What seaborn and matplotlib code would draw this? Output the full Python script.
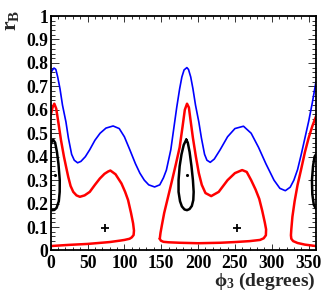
import numpy as np
import pandas as pd
import matplotlib
matplotlib.use("Agg")
import matplotlib.pyplot as plt
from matplotlib.ticker import MultipleLocator, FuncFormatter
import seaborn as sns

# Contour lines: x = phi3 (degrees), y = r_B
blue_x = [0, 2, 4.5, 7, 9.5, 12.6, 16, 20.7, 24, 28.4, 32, 36.5, 41, 47, 53, 60, 67, 75, 84.7,
          93, 100, 107.3, 115, 121, 127, 133, 141, 148, 153, 157, 163, 167, 171, 175, 178, 181,
          184.8, 187, 190, 193, 196.5, 201, 204.5, 208.8, 212, 216.5, 222, 230, 240, 250, 261.6,
          272, 282, 292, 303, 311, 318.4, 325, 330, 335, 340, 345, 350, 355, 360]
blue_y = [0.755, 0.768, 0.778, 0.772, 0.74, 0.69, 0.62, 0.548, 0.48, 0.41, 0.385, 0.374, 0.38,
          0.40, 0.43, 0.47, 0.50, 0.522, 0.531, 0.52, 0.485, 0.43, 0.37, 0.33, 0.30, 0.28, 0.271,
          0.28, 0.31, 0.343, 0.43, 0.52, 0.61, 0.69, 0.74, 0.77, 0.78, 0.772, 0.74, 0.69, 0.62,
          0.548, 0.48, 0.41, 0.385, 0.376, 0.39, 0.43, 0.485, 0.52, 0.53, 0.50, 0.44, 0.37, 0.30,
          0.265, 0.255, 0.27, 0.30, 0.345, 0.41, 0.48, 0.55, 0.63, 0.72]

red_a_x = [0, 2.5, 4.9, 7.5, 10.3, 14, 18, 21, 23.8, 27, 30.6, 35, 39.6, 46, 53, 60, 66.7, 73,
           78, 81, 88, 96, 101, 105, 109, 111.8, 113, 112.5, 110, 107, 100, 93.8, 80, 50, 25, 0]
red_a_y = [0.577, 0.61, 0.626, 0.605, 0.548, 0.47, 0.40, 0.355, 0.314, 0.275, 0.25, 0.235, 0.229,
           0.235, 0.25, 0.28, 0.307, 0.327, 0.337, 0.341, 0.325, 0.286, 0.25, 0.215, 0.16, 0.116,
           0.085, 0.066, 0.056, 0.05, 0.045, 0.042, 0.036, 0.028, 0.024, 0.019]

red_b_x = [148, 149, 151, 154, 159, 164, 170, 175, 179, 182, 185, 187.5, 190, 193, 197, 201, 205,
           210, 217.8, 228, 240, 250, 259.8, 266, 272, 278, 283, 287, 290.5, 292.3, 292, 289,
           284, 270, 250, 230, 200, 175, 160, 153, 149.5, 148]
red_b_y = [0.05, 0.075, 0.11, 0.16, 0.225, 0.29, 0.37, 0.44, 0.53, 0.60, 0.626, 0.61, 0.55, 0.48,
           0.40, 0.33, 0.28, 0.245, 0.232, 0.25, 0.30, 0.33, 0.343, 0.335, 0.30, 0.26, 0.22, 0.17,
           0.12, 0.09, 0.065, 0.052, 0.045, 0.04, 0.036, 0.033, 0.031, 0.033, 0.035, 0.037, 0.042,
           0.05]

red_c_x = [360, 345, 335, 329, 326.5, 326, 326.5, 328, 331, 335, 339.6, 345, 350, 355, 360]
red_c_y = [0.019, 0.025, 0.032, 0.04, 0.05, 0.065, 0.09, 0.144, 0.21, 0.28, 0.343, 0.42, 0.48,
           0.53, 0.572]

black_a_x = [0, 0, 2, 3.5, 6, 8.5, 10.5, 12.3, 12.2, 11, 8, 5, 2, 0]
black_a_y = [0.174, 0.45, 0.468, 0.472, 0.46, 0.42, 0.37, 0.30, 0.25, 0.21, 0.182, 0.173, 0.172, 0.174]

black_b_x = [184, 186, 188.5, 191, 193, 194, 193.5, 191.5, 188.5, 185, 181.5, 178, 175.5, 173.5,
             173.5, 175, 177.5, 180.5, 184]
black_b_y = [0.473, 0.46, 0.42, 0.36, 0.30, 0.25, 0.215, 0.19, 0.177, 0.172, 0.175, 0.188, 0.21,
             0.25, 0.30, 0.36, 0.41, 0.45, 0.473]

black_c_x = [360, 358, 356, 354.5, 355, 357, 360]
black_c_y = [0.41, 0.40, 0.36, 0.30, 0.24, 0.195, 0.178]

plus_x = [73.5, 252.5]
plus_y = [0.095, 0.095]

dot_x = [5.8, 184.8]
dot_y = [0.32, 0.32]

sns.set_theme(style="ticks")
plt.rcParams["font.family"] = ["Liberation Serif", "DejaVu Serif"]
plt.rcParams["font.weight"] = "bold"
plt.rcParams["mathtext.fontset"] = "custom"
plt.rcParams["mathtext.rm"] = "Liberation Serif:bold"
plt.rcParams["mathtext.it"] = "Liberation Serif:bold"
plt.rcParams["mathtext.bf"] = "Liberation Serif:bold"

fig = plt.figure(figsize=(3.32, 2.98), dpi=100)
ax = fig.add_axes([0.1527, 0.1594, 0.7991, 0.7869])

sns.lineplot(x=blue_x, y=blue_y, sort=False, estimator=None, color="#0000ff", lw=1.2, ax=ax)
for xs, ys in [(red_a_x, red_a_y), (red_b_x, red_b_y), (red_c_x, red_c_y)]:
    sns.lineplot(x=xs, y=ys, sort=False, estimator=None, color="#ff0000", lw=1.8, ax=ax)
for xs, ys in [(black_a_x, black_a_y), (black_b_x, black_b_y), (black_c_x, black_c_y)]:
    sns.lineplot(x=xs, y=ys, sort=False, estimator=None, color="black", lw=1.8, ax=ax)

sns.scatterplot(x=plus_x, y=plus_y, marker="+", s=40, linewidth=1.3, color="black", ax=ax)
sns.scatterplot(x=dot_x, y=dot_y, marker="o", s=5, linewidth=0, color="black", ax=ax)

ax.set_xlim(0, 360)
ax.set_ylim(0, 1)
ax.xaxis.set_major_locator(MultipleLocator(50))
ax.xaxis.set_minor_locator(MultipleLocator(10))
ax.yaxis.set_major_locator(MultipleLocator(0.1))
ax.yaxis.set_minor_locator(MultipleLocator(0.02))
ax.yaxis.set_major_formatter(FuncFormatter(lambda v, p: f"{v:g}"))
ax.xaxis.set_major_formatter(FuncFormatter(lambda v, p: f"{v:g}"))

ax.tick_params(which="both", direction="in", top=True, right=True, width=0.7, colors="#333333",
               labelcolor="black", labelsize=12.7)
ax.tick_params(axis="y", which="major", length=5.8, pad=1.5)
ax.tick_params(axis="y", which="minor", length=2.9)
ax.tick_params(axis="x", which="major", length=4.5, pad=3.5)
ax.tick_params(axis="x", which="minor", length=2.3)
for lab in ax.get_xticklabels() + ax.get_yticklabels():
    lab.set_fontweight("bold")
for sp in ax.spines.values():
    sp.set_linewidth(1.3)
    sp.set_color("black")

ax.set_xlabel("")
ax.set_ylabel("")
fig.text(0.032, 0.968, r"$\mathrm{r}_{\mathrm{B}}$", rotation=90, ha="center", va="top",
         fontsize=15.5)
fig.text(0.949, 0.040, r"$\mathrm{\phi}_{3}$ (degrees)", ha="right", va="baseline",
         fontsize=14, fontweight="bold")

fig.savefig("out.png", dpi=100)
